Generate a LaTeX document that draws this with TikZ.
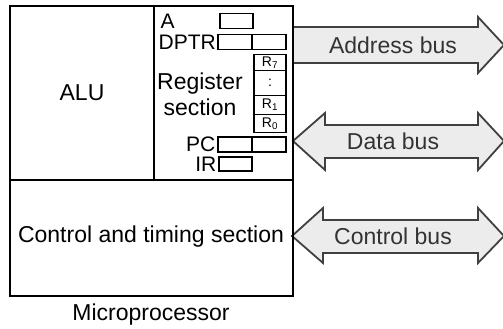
\documentclass[tikz,border=0pt]{standalone}
\usepackage{fontspec}
\setmainfont{Liberation Sans}
\usetikzlibrary{positioning}

\begin{document}
\begin{tikzpicture}[x=1pt, y=-1pt, line width=1.4pt,
    lbl/.style={font=\fontsize{23}{26}\selectfont, inner sep=0pt},
    reglbl/.style={font=\fontsize{21}{25}\selectfont, inner sep=0pt},
    reg/.style={draw, minimum width=34pt, minimum height=15pt, inner sep=0pt, outer sep=0pt},
    stk/.style={reg, minimum width=32pt, font=\fontsize{14}{15}\selectfont},
    bus/.style={fill=gray!15, draw=black!75, line width=1.8pt, line join=miter}]

    \useasboundingbox (0,0) rectangle (503,329);

    % Buses
    \filldraw[bus] (293,27) -- (478,27) -- (478,17) -- (504,45)
        -- (478,73) -- (478,63) -- (293,63);
    \filldraw[bus] (293,141) -- (325,113) -- (325,125) -- (478,125)
        -- (478,113) -- (504,141) -- (478,170) -- (478,158)
        -- (325,158) -- (325,170) -- cycle;
    \filldraw[bus] (292,236) -- (323,208) -- (323,220) -- (478,220)
        -- (478,208) -- (504,236) -- (478,263) -- (478,253)
        -- (323,253) -- (323,263) -- cycle;

    \node[lbl, text=black!80] (abus) at (393,45) {Address bus};
    \node[lbl, text=black!80] (dbus) at (393,141) {Data bus};
    \node[lbl, text=black!80] (cbus) at (393,236) {Control bus};

    % Microprocessor
    \draw[line width=1.6pt] (10,6) rectangle (293,296);
    \draw (154,6) -- (154,180);
    \draw (10,180) -- (293,180);

    \node[lbl] (alu) at (82,93) {ALU};
    \node[lbl] (ctrl) at (151,237) {Control and timing section};
    \node[lbl] (micro) at (151,315) {Microprocessor};

    % Registers
    \node[reg, minimum width=33pt] (rA) at (236.5,21) {};
    \node[reglbl, anchor=west] (lA) at (160,21) {A};

    \node[reg] (dptrH) at (235,42) {};
    \node[reg, right=0pt of dptrH] (dptrL) {};
    \node[reglbl, left=1.5pt of dptrH] (lDPTR) {DPTR};

    \node[stk, minimum height=16pt] (r7) at (270,62.5) {R\textsubscript{7}};
    \node[stk, minimum height=25pt, below=0pt of r7] (rdots) {:};
    \node[stk, minimum height=19pt, below=0pt of rdots] (r1) {R\textsubscript{1}};
    \node[stk, minimum height=18pt, below=0pt of r1] (r0) {R\textsubscript{0}};

    \node[lbl, align=center] (lreg) at (200,94) {Register\\section};

    \node[reg] (pcH) at (235,144.5) {};
    \node[reg, right=0pt of pcH] (pcL) {};
    \node[reglbl, left=2pt of pcH] (lPC) {PC};

    \node[reg, minimum width=33pt, minimum height=14pt] (rIR) at (235.5,164) {};
    \node[reglbl, left=2pt of rIR] (lIR) {IR};

\end{tikzpicture}
\end{document}
